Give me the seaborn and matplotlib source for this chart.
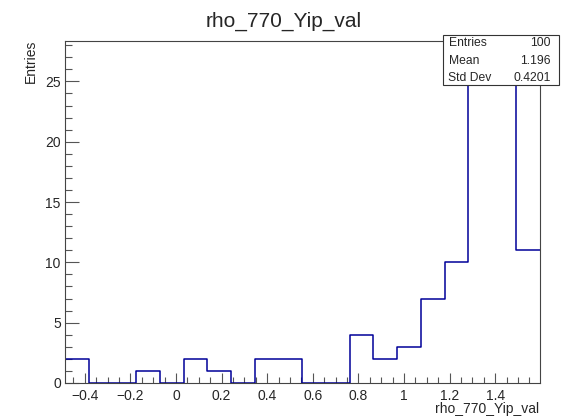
import numpy as np
import pandas as pd
import matplotlib
matplotlib.use("Agg")
import matplotlib.pyplot as plt
from matplotlib.patches import Rectangle
from matplotlib.ticker import MultipleLocator
import seaborn as sns

# ---- data ----
x_min = -0.487
x_max = 1.594
n_bins = 20
counts = [2, 0, 0, 1, 0, 2, 1, 0, 2, 2, 0, 0, 4, 2, 3, 7, 10, 27, 26, 11]
stats_labels = ["Entries", "Mean", "Std Dev"]
stats_values = ["100", "1.196", "0.4201"]
title = "rho_770_Yip_val"
xlabel = "rho_770_Yip_val"
ylabel = "Entries"

edges = [float(e) for e in np.linspace(x_min, x_max, n_bins + 1)]
centers = [0.5 * (edges[i] + edges[i + 1]) for i in range(n_bins)]
df = pd.DataFrame({"x": centers, "w": counts})

sns.set_style("ticks")
plt.rcParams["font.family"] = ["Liberation Sans", "DejaVu Sans"]

W, H = 567, 420
fig = plt.figure(figsize=(W / 100, H / 100), dpi=100)
ax = fig.add_axes([65 / W, 1 - 383 / H, (539.5 - 65) / W, (383 - 41) / H])

sns.histplot(data=df, x="x", weights="w", bins=edges, element="step",
             fill=False, color="#000099", linewidth=1.1, ax=ax)

ax.set_xlim(x_min, x_max)
ax.set_ylim(0, 28.35)
ax.xaxis.set_major_locator(MultipleLocator(0.2))
ax.xaxis.set_minor_locator(MultipleLocator(0.05))
ax.yaxis.set_major_locator(MultipleLocator(5))
ax.yaxis.set_minor_locator(MultipleLocator(1))
ax.tick_params(axis="x", which="major", direction="in", length=7, width=0.8,
               labelsize=10, pad=4, color="#555555", top=False)
ax.tick_params(axis="x", which="minor", direction="in", length=4, width=0.8,
               color="#555555", top=False)
ax.tick_params(axis="y", which="major", direction="in", length=10, width=0.8,
               labelsize=10, pad=3, color="#555555", right=False)
ax.tick_params(axis="y", which="minor", direction="in", length=5, width=0.8,
               color="#555555", right=False)
for s in ax.spines.values():
    s.set_visible(True)
    s.set_linewidth(0.8)
    s.set_color("#444444")

def fmt(v, pos):
    s = ("%.1f" % v).rstrip("0").rstrip(".")
    if s in ("-0", "0"):
        s = "0"
    return s.replace("-", "\u2212")
ax.xaxis.set_major_formatter(plt.FuncFormatter(fmt))

ax.set_xlabel("")
ax.set_ylabel("")
fig.text(539.5 / W, 1 - 413 / H, xlabel, ha="right", va="baseline", fontsize=10)
fig.text(31 / W, 1 - 40 / H, ylabel, ha="center", va="top", rotation=90,
         fontsize=10)
fig.text(0.5, 1 - 27 / H, title, ha="center", va="baseline", fontsize=15)

# stats box
bx0, bx1, by0, by1 = 442.5, 559, 35, 85
fig.add_artist(Rectangle((bx0 / W, 1 - by1 / H), (bx1 - bx0) / W, (by1 - by0) / H,
                         transform=fig.transFigure, facecolor="white",
                         edgecolor="#333333", linewidth=0.8, zorder=10))
rows_y = [43.5, 60.5, 78]
for lab, val, yy in zip(stats_labels, stats_values, rows_y):
    fig.text((bx0 + 6) / W, 1 - yy / H, lab, ha="left", va="center",
             fontsize=8.7, zorder=11)
    fig.text((bx1 - 8.5) / W, 1 - yy / H, val, ha="right", va="center",
             fontsize=8.7, zorder=11)

fig.savefig("out.png", dpi=100)
